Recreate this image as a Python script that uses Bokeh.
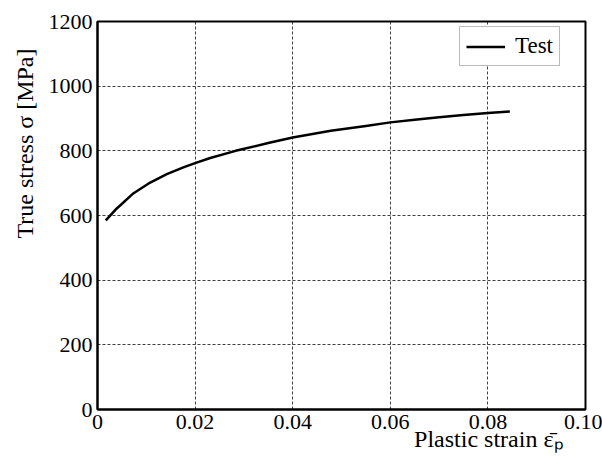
from bokeh.plotting import figure
from bokeh.models import FixedTicker, Title, Range1d
from bokeh.embed import file_html
from bokeh.resources import INLINE

# Data
strain = [0.0017, 0.0039, 0.0074, 0.0108, 0.0142, 0.0176, 0.02, 0.0231, 0.0283,
          0.0352, 0.04, 0.0478, 0.055, 0.06, 0.065, 0.07, 0.075, 0.08, 0.0845]
stress = [585, 621, 669, 702, 728, 749, 762, 778, 800,
          825, 841, 862, 877, 888, 896, 904, 911, 917, 922]

x_ticks = [0, 0.02, 0.04, 0.06, 0.08, 0.10]
x_tick_labels = ["0", "0.02", "0.04", "0.06", "0.08", "0.10"]
y_ticks = [0, 200, 400, 600, 800, 1000, 1200]
y_tick_labels = ["0", "200", "400", "600", "800", "1000", "1200"]

FONT = "Liberation Serif"
FS = "22px"
LFS = "24px"

p = figure(width=602, height=465, output_backend="svg", toolbar_location=None,
           x_range=Range1d(0, 0.10), y_range=Range1d(0, 1200),
           min_border_left=97, min_border_right=17, min_border_top=21,
           min_border_bottom=56)
p.frame_width = 488
p.frame_height = 388

p.line(strain, stress, line_color="black", line_width=2.5, line_join="round",
       legend_label="Test")

p.xaxis.ticker = FixedTicker(ticks=x_ticks)
p.yaxis.ticker = FixedTicker(ticks=y_ticks)
p.xaxis.major_label_overrides = dict(zip(x_ticks, x_tick_labels))
p.yaxis.major_label_overrides = dict(zip(y_ticks, y_tick_labels))
for ax in (p.xaxis[0], p.yaxis[0]):
    ax.major_label_text_font = FONT
    ax.major_label_text_font_size = FS
    ax.major_label_text_color = "black"
    ax.major_tick_in = 0
    ax.major_tick_out = 0
    ax.minor_tick_in = 0
    ax.minor_tick_out = 0
    ax.axis_line_color = "black"
    ax.axis_line_width = 2
p.xaxis.major_label_standoff = 5
p.yaxis.major_label_standoff = 5

p.outline_line_color = "black"
p.outline_line_width = 2
p.outline_line_alpha = 1

for g in (p.xgrid[0], p.ygrid[0]):
    g.grid_line_color = "black"
    g.grid_line_alpha = 0.75
    g.grid_line_dash = "3 2"
    g.grid_line_width = 1

# axis labels as titles (so they are not clipped by the frame)
p.add_layout(Title(text="True stress σ [MPa]", align="right", offset=27,
                   standoff=15, text_font=FONT, text_font_size=LFS,
                   text_font_style="normal", text_color="black"), "left")
p.add_layout(Title(text="Plastic strain ε̄ₚ", align="right", offset=22,
                   standoff=-15, text_font=FONT, text_font_size=LFS,
                   text_font_style="normal", text_color="black"), "below")

leg = p.legend[0]
leg.location = (362, 343)
leg.label_text_font = FONT
leg.label_text_font_size = "23px"
leg.label_text_color = "black"
leg.border_line_color = "#777777"
leg.border_line_width = 1
leg.background_fill_color = "white"
leg.background_fill_alpha = 1
leg.padding = 6
leg.margin = 0
leg.glyph_width = 39
leg.glyph_height = 21
leg.label_height = 21
leg.label_standoff = 10
leg.spacing = 0

p.background_fill_color = "white"
p.border_fill_color = "white"

open("out.html", "w").write(file_html(p, INLINE))
